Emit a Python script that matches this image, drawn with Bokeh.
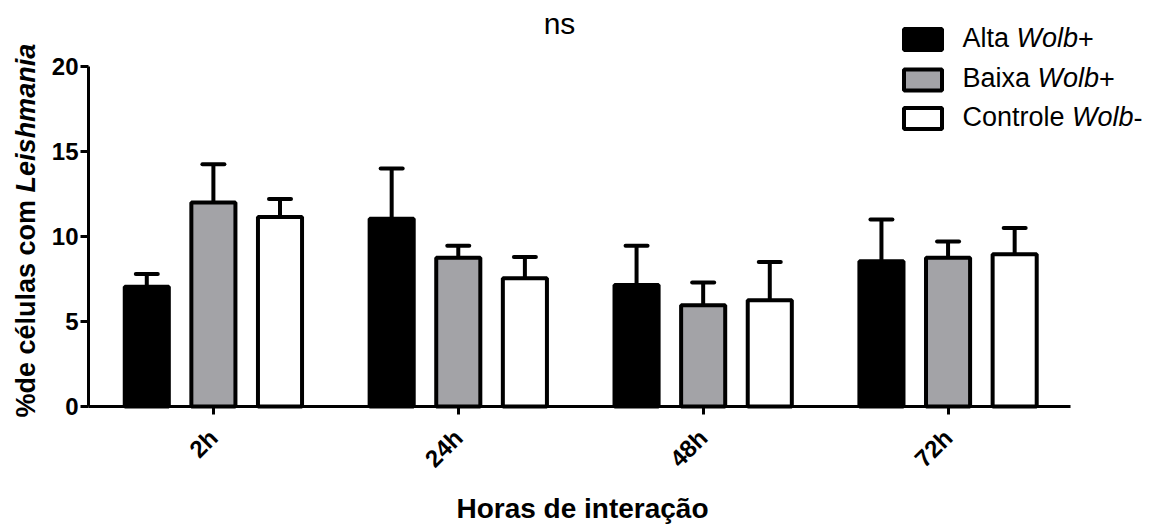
from math import pi

from bokeh.embed import file_html
from bokeh.models import (BoxAnnotation, ColumnDataSource, FixedTicker, Label,
                          Range1d, TeeHead, Whisker)
from bokeh.plotting import figure
from bokeh.resources import INLINE

# ---- data -------------------------------------------------------------
hours = ["2h", "24h", "48h", "72h"]

alta_mean = [7.05, 11.05, 7.15, 8.55]
alta_sem = [0.75, 2.95, 2.30, 2.45]

baixa_mean = [12.0, 8.75, 5.95, 8.75]
baixa_sem = [2.25, 0.70, 1.35, 0.95]

controle_mean = [11.15, 7.55, 6.25, 8.95]
controle_sem = [1.05, 1.25, 2.25, 1.55]

y_ticks = [0, 5, 10, 15, 20]

series = [
    ("Alta ", "Wolb", "+", alta_mean, alta_sem, "#000000"),
    ("Baixa ", "Wolb", "+", baixa_mean, baixa_sem, "#a3a3a7"),
    ("Controle ", "Wolb", "-", controle_mean, controle_sem, "#ffffff"),
]

# ---- layout -----------------------------------------------------------
W, H = 1150, 524
# where the axes sit on the canvas (pixels)
AX_LEFT, AX_RIGHT, AX_TOP, AX_BOTTOM = 88, 1070, 66, 406
X0, X1 = -0.51, 3.5          # x extent spanned by the x axis
Y0, Y1 = 0, 20               # y extent spanned by the y axis
FONT = "Liberation Sans"

BAR_W = 0.18
OFFSET = 0.272

KX = (X1 - X0) / (AX_RIGHT - AX_LEFT)      # data units per pixel
KY = (Y1 - Y0) / (AX_BOTTOM - AX_TOP)


def dx(px):
    """canvas pixel column -> x data value"""
    return X0 + (px - AX_LEFT) * KX


def dy(py):
    """canvas pixel row -> y data value"""
    return Y0 + (AX_BOTTOM - py) * KY


# Arial / Liberation Sans advance widths (1/1000 em)
REG = {"A": 667, "l": 222, "t": 278, "a": 556, " ": 278, "B": 667, "i": 222,
       "x": 500, "C": 722, "o": 556, "n": 556, "r": 333, "e": 556, "W": 944,
       "b": 556, "+": 584, "-": 333}
BOLD = {"%": 889, "d": 611, "e": 556, " ": 278, "c": 556, "é": 556, "l": 278,
        "u": 611, "a": 556, "s": 556, "o": 611, "m": 889}


def text_w(s, size, table):
    return sum(table[ch] for ch in s) * size / 1000.0


def base_shift(size):
    """labels land this far past the requested baseline"""
    return 0.4 * size


# the frame fills the whole canvas; axes are pinned at fixed locations
p = figure(width=W, height=H,
           x_range=Range1d(dx(0), dx(W)), y_range=Range1d(dy(H), dy(0)),
           output_backend="svg", toolbar_location=None,
           min_border=0, min_border_left=0, min_border_right=0,
           min_border_top=0, min_border_bottom=0)
p.outline_line_color = None
p.xgrid.visible = False
p.ygrid.visible = False
p.background_fill_color = "white"
p.border_fill_color = "white"

# ---- bars + upper error bars -------------------------------------------
for k, (_, _, _, mean, sem, color) in enumerate(series):
    xs = [i + (k - 1) * OFFSET for i in range(len(hours))]
    src = ColumnDataSource(dict(
        x=xs, top=mean, upper=[m + s for m, s in zip(mean, sem)]))
    p.vbar(x="x", top="top", bottom=0, width=BAR_W, source=src,
           fill_color=color, line_color="black", line_width=4)
    p.add_layout(Whisker(source=src, base="x", lower="top", upper="upper",
                         line_color="black", line_width=4,
                         upper_head=TeeHead(size=22, line_width=4,
                                            line_color="black",
                                            line_cap="round"),
                         lower_head=None))

# ---- axes ---------------------------------------------------------------
for ax in (p.xaxis[0], p.yaxis[0]):
    ax.axis_line_width = 3
    ax.axis_line_color = "black"
    ax.major_tick_line_width = 3
    ax.major_tick_line_color = "black"
    ax.major_tick_out = 8
    ax.major_tick_in = 0
    ax.minor_tick_out = 0
    ax.minor_tick_in = 0
    ax.major_label_text_font = FONT
    ax.major_label_text_font_style = "bold"
    ax.major_label_text_font_size = "24px"
    ax.major_label_text_color = "black"

p.yaxis.fixed_location = X0
p.yaxis.bounds = (Y0, Y1)
p.yaxis.ticker = FixedTicker(ticks=y_ticks)
p.yaxis.major_label_standoff = 2

p.xaxis.fixed_location = Y0
p.xaxis.bounds = (X0, X1)
p.xaxis.ticker = FixedTicker(ticks=list(range(len(hours))))
p.xaxis.major_label_overrides = {i: h for i, h in enumerate(hours)}
p.xaxis.major_label_orientation = pi / 4
p.xaxis.major_label_standoff = 19

# ---- y-axis title (mixed upright / italic) --------------------------------
YL_SIZE = 27
yl_start = 417
yl_base = 36 - base_shift(YL_SIZE)
part1 = "%de células com "
p.add_layout(Label(x=dx(yl_base), y=dy(yl_start), text=part1, angle=pi / 2,
                   text_align="left", text_baseline="alphabetic",
                   text_font=FONT, text_font_style="bold",
                   text_font_size=f"{YL_SIZE}px", text_color="black"))
p.add_layout(Label(x=dx(yl_base),
                   y=dy(yl_start - text_w(part1, YL_SIZE, BOLD)),
                   text="Leishmania", angle=pi / 2,
                   text_align="left", text_baseline="alphabetic",
                   text_font=FONT, text_font_style="bold italic",
                   text_font_size=f"{YL_SIZE}px", text_color="black"))

# ---- x-axis title and significance mark --------------------------------
p.add_layout(Label(x=dx(582), y=dy(519 - base_shift(28)),
                   text="Horas de interação",
                   text_align="center", text_baseline="alphabetic",
                   text_font=FONT, text_font_style="bold",
                   text_font_size="28px", text_color="black"))
p.add_layout(Label(x=dx(559), y=dy(35 - base_shift(30)), text="ns",
                   text_align="center", text_baseline="alphabetic",
                   text_font=FONT, text_font_size="30px",
                   text_color="black"))

# ---- legend ---------------------------------------------------------------
LG_SIZE = 27
box_rows = [39, 79.5, 118]
text_rows = [48.5, 88.5, 127.5]
for (pre, ital, post, _, _, color), yc, yb in zip(series, box_rows, text_rows):
    p.add_layout(BoxAnnotation(left=dx(903.5), right=dx(941.5),
                               top=dy(yc - 10.5), bottom=dy(yc + 10.5),
                               fill_color=color, fill_alpha=1,
                               line_color="black", line_alpha=1,
                               line_width=4))
    xpos = 962
    for txt, style in ((pre, "normal"), (ital, "italic"), (post, "normal")):
        p.add_layout(Label(x=dx(xpos), y=dy(yb - base_shift(LG_SIZE)),
                           text=txt,
                           text_align="left", text_baseline="alphabetic",
                           text_font=FONT, text_font_style=style,
                           text_font_size=f"{LG_SIZE}px", text_color="black"))
        xpos += text_w(txt, LG_SIZE, REG)

open("out.html", "w").write(file_html(p, INLINE))
